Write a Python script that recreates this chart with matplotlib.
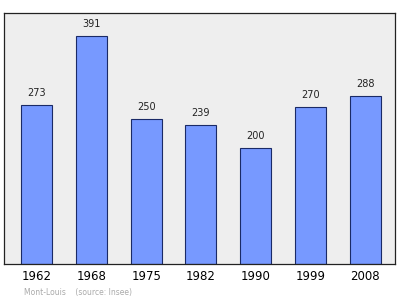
import matplotlib
matplotlib.use("Agg")
import matplotlib.pyplot as plt

years = ["1962", "1968", "1975", "1982", "1990", "1999", "2008"]
population = [273, 391, 250, 239, 200, 270, 288]

fig = plt.figure(figsize=(4, 2.99), dpi=100)
ax = fig.add_axes([0.01, 0.117, 0.9775, 0.839])
ax.set_facecolor("#eeeeee")

x = list(range(len(years)))
ax.bar(x, population, width=0.566, color="#7799ff", edgecolor="#1a2a66", linewidth=0.8)
for i, v in enumerate(population):
    ax.annotate(str(v), (i, v), xytext=(0, 5), textcoords="offset points",
                ha="center", va="bottom", fontsize=7, color="#222222")

ax.set_xlim(-0.593, 6.54)
ax.set_ylim(0, 431)
ax.set_xticks(x)
ax.set_xticklabels(years, fontsize=8.5)
ax.tick_params(axis="x", length=0, pad=4)
ax.set_yticks([])
for s in ax.spines.values():
    s.set_color("#222222")
    s.set_linewidth(0.9)

fig.text(0.06, 0.013, "Mont-Louis    (source: Insee)", fontsize=5.5, color="#aaaaaa")

fig.savefig("out.png", dpi=100)
